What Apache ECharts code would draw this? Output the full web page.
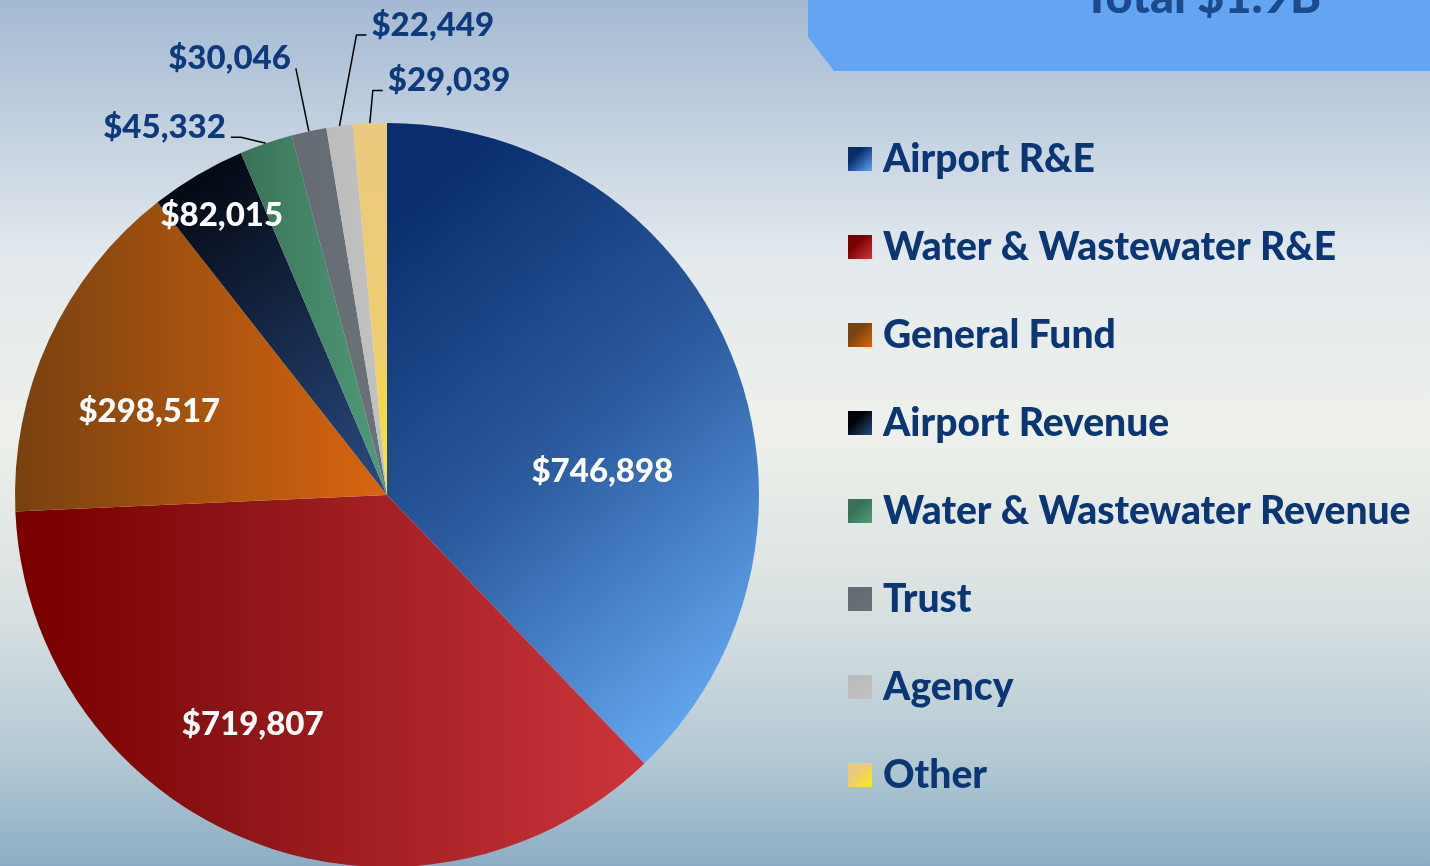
<!DOCTYPE html>
<html>
<head>
<meta charset="utf-8">
<script src="https://cdn.jsdelivr.net/npm/echarts@6/dist/echarts.min.js"></script>
<style>
html, body { margin: 0; padding: 0; }
#main { width: 1430px; height: 866px; }
</style>
</head>
<body>
<div id="main"></div>
<script>
// fund names and amounts (in thousands)
var funds = ['Airport R&E', 'Water & Wastewater R&E', 'General Fund', 'Airport Revenue',
    'Water & Wastewater Revenue', 'Trust', 'Agency', 'Other'];
var amounts = [746898, 719807, 298517, 82015, 45332, 30046, 22449, 29039];
var totalText = 'Total $1.9B';

// slice colours: [dark, light]
var sliceColors = [
    ['#0a2e6d', '#63a6ee'],
    ['#7a0000', '#cc353c'],
    ['#774110', '#da650f'],
    ['#000206', '#2a4b82'],
    ['#3a7157', '#509c7a'],
    ['#646b72', '#6a7177'],
    ['#bcbcbc', '#c2c2c2'],
    ['#ebc97f', '#fbe91a']
];

// which labels sit outside with a leader line
var outside = [false, false, false, false, true, true, true, true];
// inside labels: shift from default spot
var insideShift = [[40, 47], [-64, 54], [-66, -5], [-69, -117]];
// outside labels: elbow and end of the leader, relative to the rim point; side of the text
var callout = {
    4: [-25, -6, -35, -6, 'right'],
    5: [-13, -63, -13, -63, 'right'],
    6: [17, -91, 27, -91, 'left'],
    7: [3, -33, 13, -33, 'left']
};

function fmt(v) {
    return '$' + v.toString().replace(/\B(?=(\d{3})+(?!\d))/g, ',');
}

function sliceGradient(i) {
    var c = sliceColors[i];
    if (i == 0) {
        return new echarts.graphic.LinearGradient(0, 0.15, 1, 0.85, [
            { offset: 0, color: c[0] },
            { offset: 0.5, color: '#2c5b9f' },
            { offset: 1, color: c[1] }
        ]);
    }
    if (i == 1) {
        return new echarts.graphic.LinearGradient(0, 0, 1, 0, [
            { offset: 0, color: c[0] },
            { offset: 0.05, color: c[0] },
            { offset: 0.35, color: '#8d1416' },
            { offset: 1, color: c[1] }
        ]);
    }
    if (i == 3) {
        return new echarts.graphic.LinearGradient(0, 0, 1, 1, [
            { offset: 0, color: c[0] },
            { offset: 1, color: c[1] }
        ]);
    }
    if (i == 7) {
        return new echarts.graphic.LinearGradient(0, 0, 0, 1, [
            { offset: 0, color: c[0] },
            { offset: 0.6, color: '#eecd70' },
            { offset: 1, color: c[1] }
        ]);
    }
    return new echarts.graphic.LinearGradient(0, 0, 1, 0, [
        { offset: 0, color: c[0] },
        { offset: 1, color: c[1] }
    ]);
}

function legendGradient(i) {
    var c = sliceColors[i];
    return new echarts.graphic.LinearGradient(0, 0, 1, 1, [
        { offset: 0, color: c[0] },
        { offset: 0.35, color: c[0] },
        { offset: 1, color: c[1] }
    ]);
}

var myChart = echarts.init(document.getElementById('main'));

var pieData = funds.map(function (name, i) {
    var item = {
        name: name,
        value: amounts[i],
        itemStyle: { color: sliceGradient(i) }
    };
    if (outside[i]) {
        item.label = {
            position: 'outside',
            color: '#0e397b'
        };
        item.labelLine = { show: true };
    } else {
        item.label = {
            position: 'inside',
            color: '#ffffff'
        };
        item.labelLine = { show: false };
    }
    return item;
});

var legendData = funds.map(function (name, i) {
    return { name: name, icon: 'rect', itemStyle: { color: legendGradient(i) } };
});

var option = {
    backgroundColor: new echarts.graphic.LinearGradient(0, 0, 0, 1, [
        { offset: 0, color: '#a3b9d3' },
        { offset: 0.3, color: '#e3e9ed' },
        { offset: 0.5, color: '#eef1ea' },
        { offset: 0.72, color: '#d6dfe0' },
        { offset: 0.88, color: '#b2c8d3' },
        { offset: 1, color: '#8badc4' }
    ]),
    animation: false,
    graphic: [
        {
            type: 'polygon',
            shape: { points: [[808, 0], [1430, 0], [1430, 71], [834, 71], [808, 37]] },
            style: { fill: '#63a5f2' }
        },
        {
            type: 'text',
            x: 1202,
            y: -2,
            style: {
                text: totalText,
                fill: '#1b4a8d',
                font: '900 47px Lato',
                align: 'center',
                verticalAlign: 'middle'
            }
        }
    ],
    legend: {
        orient: 'vertical',
        left: 848,
        top: 139,
        padding: 0,
        itemWidth: 24,
        itemHeight: 24,
        itemGap: 48,
        selectedMode: false,
        data: legendData,
        textStyle: {
            color: '#0c3574',
            fontFamily: 'Lato',
            fontWeight: 900,
            fontSize: 39,
            lineHeight: 40,
            padding: [0, 0, 0, 6]
        }
    },
    series: [{
        type: 'pie',
        center: [387, 495],
        radius: 372,
        startAngle: 90,
        clockwise: true,
        avoidLabelOverlap: false,
        emphasis: { disabled: true },
        label: {
            show: true,
            fontFamily: 'Lato',
            fontWeight: 900,
            fontSize: 33,
            formatter: function (p) { return fmt(p.value); }
        },
        labelLine: {
            lineStyle: { color: '#000000', width: 1.5 }
        },
        labelLayout: function (params) {
            var i = params.dataIndex;
            if (!outside[i]) {
                return { dx: insideShift[i][0], dy: insideShift[i][1] };
            }
            var c = callout[i];
            var rim = params.labelLinePoints[0];
            var p1 = [rim[0] + c[0], rim[1] + c[1]];
            var p2 = [rim[0] + c[2], rim[1] + c[3]];
            var left = c[4] == 'left';
            return {
                x: p2[0] + (left ? 5 : -5),
                y: p2[1] - 10,
                align: left ? 'left' : 'right',
                verticalAlign: 'middle',
                labelLinePoints: [rim, p1, p2]
            };
        },
        data: pieData
    }]
};

myChart.setOption(option);

window.addEventListener('resize', function () {
    myChart.resize();
});
</script>
</body>
</html>
